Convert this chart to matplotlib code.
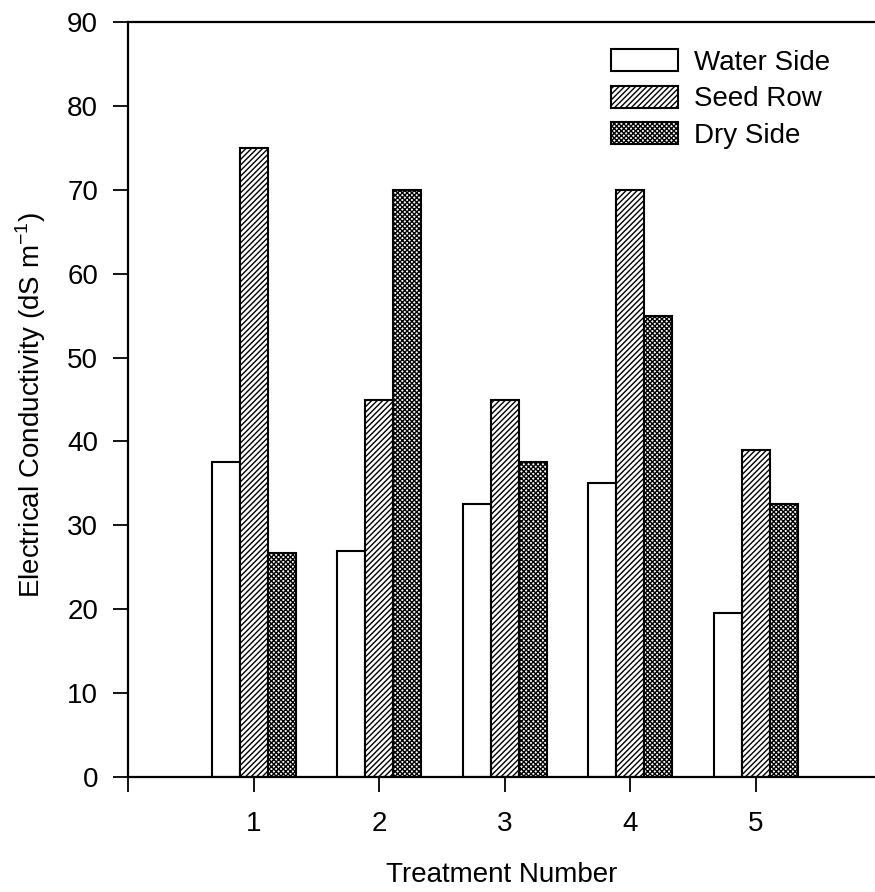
import matplotlib
matplotlib.use('Agg')
from matplotlib import pyplot as plt
import numpy as np

plt.rcParams['font.family'] = ['Liberation Sans', 'DejaVu Sans']
plt.rcParams['mathtext.fontset'] = 'custom'
plt.rcParams['mathtext.rm'] = 'Liberation Sans'
plt.rcParams['hatch.linewidth'] = 1.0

treatments = [1, 2, 3, 4, 5]
water_side = [37.5, 27.0, 32.5, 35.0, 19.5]
seed_row = [75.0, 45.0, 45.0, 70.0, 39.0]
dry_side = [26.7, 70.0, 37.5, 55.0, 32.5]

fig = plt.figure(figsize=(8.75, 8.92), dpi=100)
ax = fig.add_axes([0.1463, 0.1289, 0.8537, 0.8464])

x = np.array(treatments)
w = 0.223
ax.bar(x - w, water_side, w, color='white', edgecolor='black', linewidth=1.5, label='Water Side')
ax.bar(x, seed_row, w, color='white', edgecolor='black', linewidth=1.5, hatch='//////', label='Seed Row')
ax.bar(x + w, dry_side, w, color='white', edgecolor='black', linewidth=1.5, hatch='xxxxxxx', label='Dry Side')

ax.set_xlim(0, 5.95)
ax.set_ylim(0, 90)
ax.set_xticks([0, 1, 2, 3, 4, 5])
ax.set_xticklabels(['', '1', '2', '3', '4', '5'])
ax.set_yticks(range(0, 91, 10))
ax.tick_params(axis='both', direction='out', length=11, width=1.3, labelsize=20)
ax.tick_params(axis='y', pad=10.5)
ax.tick_params(axis='x', pad=13.5)

for side in ['left', 'bottom', 'top']:
    ax.spines[side].set_linewidth(1.6)
ax.spines['right'].set_visible(False)

ax.set_xlabel('Treatment Number', fontsize=20, labelpad=18)
ax.set_ylabel('Electrical Conductivity (dS m$^{\\mathregular{-1}}$)', fontsize=20,
              labelpad=14, y=0.493)

ax.legend(loc='upper right', bbox_to_anchor=(0.974, 0.997), frameon=False, fontsize=20,
          handlelength=2.4, handleheight=0.85, labelspacing=0.35, handletextpad=0.6)

fig.savefig('out.png', dpi=100)
